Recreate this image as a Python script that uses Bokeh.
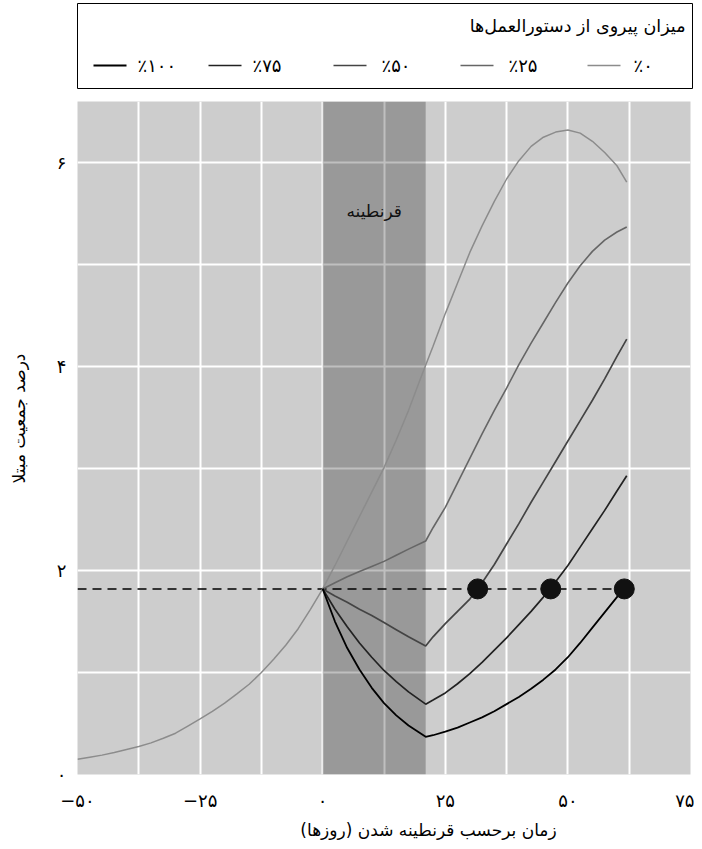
import numpy as np
from bokeh.plotting import figure
from bokeh.models import Range1d, FixedTicker, Label, BoxAnnotation
from bokeh.layouts import column, row
from bokeh.embed import file_html
from bokeh.resources import INLINE
from bokeh.core.properties import value

# ---------------- data ----------------
days_no_quarantine = [-50, -47.5, -45, -42.5, -40, -37.5, -35, -32.5, -30, -27.5, -25,
                      -22.5, -20, -17.5, -15, -12.5, -10, -7.5, -5, -2.5, 0,
                      2.5, 5, 7.5, 10, 12.5, 15, 17.5, 20, 22.5, 25, 27.5, 30,
                      32.5, 35, 37.5, 40, 42.5, 45, 47.5, 50, 52.5, 55, 57.5, 60, 62]
infected_0 = [0.15, 0.17, 0.19, 0.215, 0.245, 0.275, 0.31, 0.355, 0.405, 0.475, 0.545,
              0.62, 0.70, 0.79, 0.885, 1.00, 1.13, 1.27, 1.43, 1.62, 1.82,
              2.05, 2.29, 2.53, 2.77, 3.01, 3.28, 3.57, 3.89, 4.20, 4.52, 4.82, 5.12,
              5.38, 5.62, 5.84, 6.02, 6.16, 6.25, 6.30, 6.32, 6.29, 6.21, 6.10, 5.97, 5.81]

days_quarantine = [0, 2.5, 5, 7.5, 10, 12.5, 15, 17.5, 21, 22.5, 25, 27.5, 30, 32.5, 35,
                   37.5, 40, 42.5, 45, 47.5, 50, 52.5, 55, 57.5, 60, 62]
infected_25 = [1.82, 1.88, 1.94, 1.99, 2.04, 2.09, 2.15, 2.21, 2.29, 2.42, 2.62, 2.86, 3.10,
               3.34, 3.57, 3.79, 4.02, 4.23, 4.43, 4.63, 4.82, 4.99, 5.13, 5.24, 5.32, 5.37]
infected_50 = [1.82, 1.75, 1.69, 1.62, 1.56, 1.49, 1.42, 1.35, 1.26, 1.35, 1.48, 1.60, 1.72,
               1.88, 2.06, 2.26, 2.46, 2.67, 2.87, 3.07, 3.27, 3.47, 3.67, 3.88, 4.10, 4.27]
infected_75 = [1.82, 1.62, 1.45, 1.29, 1.15, 1.02, 0.91, 0.81, 0.69, 0.73, 0.80, 0.89, 0.99,
               1.10, 1.22, 1.34, 1.47, 1.60, 1.74, 1.89, 2.05, 2.23, 2.41, 2.59, 2.78, 2.93]
infected_100 = [1.82, 1.50, 1.24, 1.03, 0.85, 0.70, 0.58, 0.48, 0.37, 0.385, 0.42, 0.46, 0.51,
                0.56, 0.62, 0.69, 0.76, 0.84, 0.93, 1.03, 1.15, 1.29, 1.44, 1.59, 1.74, 1.86]

series_labels = ["٪۰", "٪۲۵", "٪۵۰", "٪۷۵", "٪۱۰۰"]
legend_title = "میزان پیروی از دستورالعمل‌ها"

quarantine_start = 0
quarantine_end = 21
quarantine_label = "قرنطینه"

threshold = 1.82
crossing_days = [31.6, 46.5, 61.5]

x_tick_values = [-50, -25, 0, 25, 50, 75]
x_tick_labels = ["−۵۰", "−۲۵", "۰", "۲۵", "۵۰", "۷۵"]
x_minor_values = [-37.5, -12.5, 12.5, 37.5, 62.5]
y_tick_values = [0, 2, 4, 6]
y_tick_labels = ["۰", "۲", "۴", "۶"]
y_minor_values = [1, 3, 5]

x_label = "زمان برحسب قرنطینه شدن (روزها)"
y_label = "درصد جمعیت مبتلا"

# ---------------- style / layout ----------------
FONT = "DejaVu Sans"
colors = ["#8c8c8c", "#666666", "#444444", "#222222", "#000000"]
widths = [1.5, 1.6, 1.7, 1.7, 1.8]
RLM = "\u200F"

W = 694            # total width
LEG_H = 101        # legend strip height
YLAB_W = 48        # y-label strip width
MAIN_H = 713       # main plot height (frame 673 + bottom 40)
XLAB_H = 27        # x-label strip height


def strip(width, height, xr, yr):
    f = figure(width=width, height=height, x_range=xr, y_range=yr,
               output_backend="svg", toolbar_location=None,
               x_axis_location=None, y_axis_location=None, min_border=0)
    f.grid.grid_line_color = None
    f.outline_line_color = None
    f.background_fill_color = "white"
    f.border_fill_color = "white"
    f.frame_align = False
    return f


# ---------------- main plot ----------------
p = figure(width=W - YLAB_W, height=MAIN_H, x_range=Range1d(-50, 75), y_range=Range1d(0, 6.6),
           output_backend="svg", toolbar_location=None,
           min_border_left=29, min_border_right=4, min_border_top=0, min_border_bottom=40)
p.frame_align = False
p.background_fill_color = "#cdcdcd"
p.border_fill_color = "white"
p.outline_line_color = None

p.xaxis.ticker = FixedTicker(ticks=x_tick_values, minor_ticks=x_minor_values)
p.yaxis.ticker = FixedTicker(ticks=y_tick_values, minor_ticks=y_minor_values)
p.xaxis.major_label_overrides = {float(k): v for k, v in zip(x_tick_values, x_tick_labels)}
p.yaxis.major_label_overrides = {float(k): v for k, v in zip(y_tick_values, y_tick_labels)}
for ax in (p.xaxis, p.yaxis):
    ax.axis_line_color = None
    ax.major_tick_line_color = None
    ax.minor_tick_line_color = None
    ax.major_label_text_font = FONT
    ax.major_label_text_font_size = "18px"
    ax.major_label_text_color = "black"
p.xaxis.major_label_standoff = 9
p.yaxis.major_label_standoff = 5

for g in (p.xgrid, p.ygrid):
    g.grid_line_color = "white"
    g.grid_line_width = 2
    g.minor_grid_line_color = "white"
    g.minor_grid_line_width = 2

band = BoxAnnotation(left=quarantine_start, right=quarantine_end, fill_color="black",
                     fill_alpha=0.25, line_color=None, level="underlay")
p.add_layout(band)

p.add_layout(Label(x=(quarantine_start + quarantine_end) / 2, y=5.53, text=quarantine_label,
                   text_align="center", text_baseline="middle", text_font=FONT,
                   text_font_size="17px", text_color="#111111"))

p.line([x_tick_values[0], crossing_days[-1]], [threshold, threshold],
       line_color="black", line_width=1.5, line_dash="9 6")

p.line(days_no_quarantine, infected_0, line_color=colors[0], line_width=widths[0])
for vals, c, w in zip([infected_25, infected_50, infected_75, infected_100], colors[1:], widths[1:]):
    p.line(days_quarantine, vals, line_color=c, line_width=w)

p.scatter(crossing_days, [threshold] * len(crossing_days), size=20,
          fill_color="#111111", line_color="#111111")

# ---------------- y-label strip ----------------
ylab = strip(YLAB_W, MAIN_H, Range1d(0, YLAB_W), Range1d(0, MAIN_H))
ylab.text(x=[18], y=[396], text=[y_label], angle=np.pi / 2, text_align="center",
          text_baseline="middle", text_font=value(FONT), text_font_size="17px",
          text_color="black")

# ---------------- x-label strip ----------------
xlab = strip(W, XLAB_H, Range1d(0, W), Range1d(0, XLAB_H))
xlab.text(x=[428], y=[12], text=[x_label + RLM], text_align="center", text_baseline="middle",
          text_font=value(FONT), text_font_size="17px", text_color="black")

# ---------------- legend strip ----------------
leg = strip(W, LEG_H, Range1d(0, W), Range1d(LEG_H, 0))
leg.quad(left=[77], right=[692], top=[3], bottom=[88], fill_color=None,
         line_color="black", line_width=1)
leg.text(x=[685], y=[25], text=[legend_title], text_align="right", text_baseline="middle",
         text_font=value(FONT), text_font_size="17.5px", text_color="black")

row_y = 65
line_starts = [93, 208, 333, 460, 587]    # slots, left to right
text_starts = [137, 252, 381, 508, 633]
order = [4, 3, 2, 1, 0]                   # 100%, 75%, 50%, 25%, 0%
leg.segment(x0=line_starts, y0=[row_y] * 5, x1=[s + 33 for s in line_starts], y1=[row_y] * 5,
            line_color=[colors[i] for i in order], line_width=[widths[i] for i in order])
leg.text(x=text_starts, y=[row_y] * 5, text=[series_labels[i] for i in order],
         text_align="left", text_baseline="middle", text_font=value(FONT),
         text_font_size="18px", text_color="black")

layout = column(leg, row(ylab, p, spacing=0), xlab, spacing=0)
open("out.html", "w").write(file_html(layout, INLINE))
